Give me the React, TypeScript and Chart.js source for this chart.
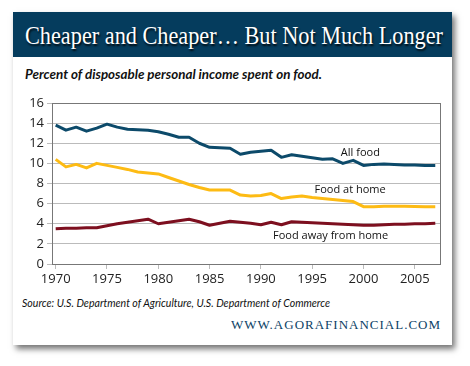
import React, { useEffect, useLayoutEffect, useRef } from "react";
import { Chart, registerables } from "chart.js";

Chart.register(...registerables);

const years = [
  1970, 1971, 1972, 1973, 1974, 1975, 1976, 1977, 1978, 1979,
  1980, 1981, 1982, 1983, 1984, 1985, 1986, 1987, 1988, 1989,
  1990, 1991, 1992, 1993, 1994, 1995, 1996, 1997, 1998, 1999,
  2000, 2001, 2002, 2003, 2004, 2005, 2006, 2007,
];

const allFood = [
  13.8, 13.3, 13.6, 13.2, 13.5, 13.9, 13.6, 13.4, 13.35, 13.3,
  13.15, 12.9, 12.6, 12.6, 12.0, 11.6, 11.55, 11.5, 10.9, 11.1,
  11.2, 11.3, 10.6, 10.85, 10.7, 10.55, 10.4, 10.45, 10.0, 10.3,
  9.8, 9.9, 9.95, 9.9, 9.85, 9.85, 9.8, 9.8,
];

const foodAtHome = [
  10.4, 9.65, 9.9, 9.55, 10.0, 9.8, 9.6, 9.4, 9.15, 9.05,
  8.95, 8.6, 8.25, 7.9, 7.6, 7.35, 7.35, 7.35, 6.85, 6.75,
  6.8, 7.0, 6.5, 6.65, 6.75, 6.6, 6.5, 6.4, 6.3, 6.2,
  5.7, 5.7, 5.75, 5.75, 5.75, 5.72, 5.7, 5.7,
];

const foodAway = [
  3.5, 3.55, 3.55, 3.6, 3.6, 3.8, 4.0, 4.15, 4.3, 4.45,
  4.0, 4.15, 4.3, 4.45, 4.2, 3.85, 4.05, 4.25, 4.15, 4.05,
  3.9, 4.15, 3.9, 4.2, 4.15, 4.1, 4.05, 4.0, 3.95, 3.9,
  3.85, 3.85, 3.9, 3.95, 3.95, 4.0, 4.0, 4.05,
];

const xTicks = [1970, 1975, 1980, 1985, 1990, 1995, 2000, 2005];
const seriesLabels = ["All food", "Food at home", "Food away from home"];
const seriesColors = ["#0c4a6a", "#fdbb14", "#7d0f1f"];
// label anchor points in data units [year, value]
const labelAnchors = [
  [1999.7, 11.05],
  [1998.7, 7.36],
  [1996.8, 2.8],
];

const labelPlugin = {
  id: "seriesLabels",
  afterDatasetsDraw(chart: any) {
    const { ctx, scales, chartArea } = chart;
    ctx.save();
    ctx.strokeStyle = "#777";
    ctx.lineWidth = 1;
    ctx.strokeRect(
      Math.round(chartArea.left) + 0.5,
      Math.round(chartArea.top) + 0.5,
      Math.round(chartArea.right - chartArea.left),
      Math.round(chartArea.bottom - chartArea.top)
    );
    ctx.font = "11px 'Open Sans'";
    ctx.fillStyle = "#111";
    ctx.textAlign = "center";
    ctx.textBaseline = "middle";
    seriesLabels.forEach((t, i) => {
      const x = scales.x.getPixelForValue(labelAnchors[i][0]);
      const y = scales.y.getPixelForValue(labelAnchors[i][1]);
      ctx.fillText(t, x, y);
    });
    ctx.restore();
  },
};

function FitText(props: { text: string; left: number; top: number; width: number; height: number; style: any }) {
  const ref = useRef<HTMLSpanElement | null>(null);
  useLayoutEffect(() => {
    const el = ref.current;
    if (!el) return;
    el.style.transform = "none";
    const w = el.getBoundingClientRect().width;
    if (w > 0) el.style.transform = `scaleX(${props.width / w})`;
  }, []);
  return (
    <div
      style={{
        position: "absolute",
        left: props.left,
        top: props.top,
        height: props.height,
        lineHeight: props.height + "px",
        whiteSpace: "nowrap",
      }}
    >
      <span ref={ref} style={{ display: "inline-block", transformOrigin: "0 50%", ...props.style }}>
        {props.text}
      </span>
    </div>
  );
}

function LineChart() {
  const ref = useRef<HTMLCanvasElement | null>(null);
  useEffect(() => {
    if (!ref.current) return;
    const mk = (vals: number[]) => years.map((y, i) => ({ x: y, y: vals[i] }));
    const chart = new Chart(ref.current, {
      type: "line",
      data: {
        datasets: [allFood, foodAtHome, foodAway].map((vals, i) => ({
          label: seriesLabels[i],
          data: mk(vals),
          borderColor: seriesColors[i],
          backgroundColor: seriesColors[i],
          borderWidth: 3,
          pointRadius: 0,
          tension: 0,
          borderJoinStyle: "round" as const,
        })),
      },
      options: {
        animation: false,
        responsive: false,
        maintainAspectRatio: false,
        layout: { padding: { top: 13, right: 10, left: 0, bottom: 0 } },
        plugins: {
          legend: { display: false },
          tooltip: { enabled: false },
          title: { display: false },
        },
        scales: {
          x: {
            type: "linear",
            min: 1969.64,
            max: 2007.46,
            afterBuildTicks: (s: any) => {
              s.ticks = xTicks.map((v) => ({ value: v }));
            },
            afterFit: (s: any) => {
              s.height = 26;
            },
            ticks: {
              color: "#222",
              font: { family: "'Open Sans'", size: 13 },
              callback: (v: any) => String(v),
              maxRotation: 0,
              autoSkip: false,
              padding: 2,
            },
            grid: {
              drawOnChartArea: false,
              color: "#bbb",
              tickLength: 5,
            },
            border: { color: "#777", width: 1 },
          },
          y: {
            min: 0,
            max: 16,
            afterFit: (s: any) => {
              s.width = 34;
            },
            ticks: {
              stepSize: 2,
              color: "#222",
              font: { family: "'Open Sans'", size: 13 },
              padding: 3,
            },
            grid: { color: "#bbb", tickLength: 5 },
            border: { color: "#777", width: 1 },
          },
        },
      },
      plugins: [labelPlugin],
    });
    return () => chart.destroy();
  }, []);
  return (
    <canvas
      ref={ref}
      width={432}
      height={200}
      style={{ position: "absolute", left: 18, top: 90, width: 432, height: 200 }}
    />
  );
}

export default function App() {
  return (
    <div style={{ position: "absolute", left: 0, top: 0, width: 470, height: 366, background: "#fff", overflow: "hidden" }}>
      <div
        style={{
          position: "absolute",
          left: 13,
          top: 12,
          width: 439,
          height: 333,
          background: "#fff",
          boxShadow: "3px 4px 6px rgba(0,0,0,0.55)",
        }}
      />
      <div
        style={{
          position: "absolute",
          left: 13,
          top: 12,
          width: 439,
          height: 45,
          background: "#053c5d",
        }}
      />
      <FitText
        text="Cheaper and Cheaper… But Not Much Longer"
        left={25}
        top={13}
        width={418}
        height={45}
        style={{
          color: "#fff",
          fontFamily: "'Liberation Serif', serif",
          fontSize: 24.5,
          textShadow: "1px 2px 2px rgba(0,0,0,0.85)",
        }}
      />
      <FitText
        text="Percent of disposable personal income spent on food."
        left={25}
        top={66}
        width={297}
        height={16}
        style={{
          color: "#111",
          fontFamily: "Lato, sans-serif",
          fontWeight: 700,
          fontStyle: "italic",
          fontSize: 13,
        }}
      />
      <LineChart />
      <FitText
        text="Source: U.S. Department of Agriculture, U.S. Department of Commerce"
        left={22}
        top={295}
        width={308}
        height={14}
        style={{
          color: "#111",
          fontFamily: "Lato, sans-serif",
          fontStyle: "italic",
          fontSize: 10.5,
        }}
      />
      <FitText
        text="WWW.AGORAFINANCIAL.COM"
        left={231}
        top={316}
        width={210}
        height={16}
        style={{
          color: "#0c3f66",
          fontFamily: "'Liberation Serif', serif",
          fontSize: 13,
          letterSpacing: 1,
        }}
      />
    </div>
  );
}
